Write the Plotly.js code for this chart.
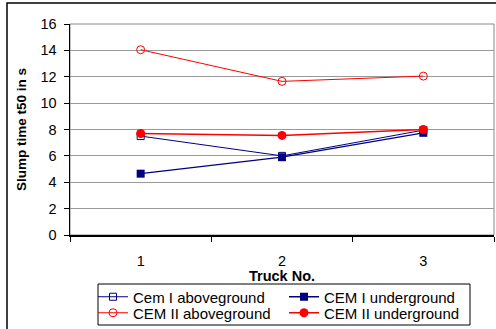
<!DOCTYPE html>
<html><head><meta charset="utf-8">
<script src="https://cdn.plot.ly/plotly-3.0.1.min.js"></script>
<style>html,body{margin:0;padding:0;background:#fff}#chart{width:496px;height:329px}</style>
</head><body><div id="chart"></div>
<script>
const trucks = ['1', '2', '3'];
const cemIAbove = [7.5, 6.0, 7.95];
const cemIUnder = [4.65, 5.9, 7.75];
const cemIIAbove = [14.05, 11.65, 12.05];
const cemIIUnder = [7.7, 7.55, 8.0];
const yTicks = [0, 2, 4, 6, 8, 10, 12, 14, 16];
const xTitle = 'Truck No.';
const yTitle = 'Slump time t50 in s';

const blue = '#000080', red = '#FF0000';
const traces = [
  {x: trucks, y: cemIAbove, name: 'Cem I aboveground', mode: 'lines+markers', legend: 'legend',
   line: {color: blue, width: 1}, marker: {symbol: 'square-open', size: 7, color: blue, line: {width: 1}}},
  {x: trucks, y: cemIUnder, name: 'CEM I underground', mode: 'lines+markers', legend: 'legend',
   line: {color: blue, width: 1.3}, marker: {symbol: 'square', size: 8, color: blue}},
  {x: trucks, y: cemIIAbove, name: 'CEM II aboveground', mode: 'lines+markers', legend: 'legend2',
   line: {color: red, width: 1}, marker: {symbol: 'circle-open', size: 8, color: red, line: {width: 1}}},
  {x: trucks, y: cemIIUnder, name: 'CEM II underground', mode: 'lines+markers', legend: 'legend2',
   line: {color: red, width: 1.5}, marker: {symbol: 'circle', size: 9, color: red}}
];
const font = {family: 'Liberation Sans, Arial, sans-serif', color: '#000'};
function legendRow(yPix) {
  return {
    orientation: 'h', xref: 'container', yref: 'container',
    x: 93 / 496, xanchor: 'left', y: 1 - yPix / 329, yanchor: 'middle',
    borderwidth: 0, bgcolor: 'rgba(0,0,0,0)',
    entrywidth: 146, entrywidthmode: 'pixels', itemwidth: 30,
    traceorder: 'normal',
    font: Object.assign({size: 15}, font)
  };
}
const layout = {
  width: 496, height: 329,
  margin: {l: 70, r: 2, t: 24, b: 94},
  paper_bgcolor: '#fff', plot_bgcolor: '#fff',
  font: Object.assign({size: 14}, font),
  showlegend: true,
  xaxis: {
    type: 'category', range: [-0.5, 2.5], tickson: 'boundaries', automargin: false,
    ticks: 'outside', ticklen: 5, tickcolor: '#000', tickwidth: 1,
    ticklabelstandoff: 12,
    showline: true, linecolor: '#000', linewidth: 1.5,
    showgrid: false, zeroline: false,
    tickfont: Object.assign({size: 14.5}, font)
  },
  yaxis: {
    range: [0, 16], tickvals: yTicks, ticktext: yTicks.map(String),
    ticks: 'outside', ticklen: 5, tickcolor: '#000', tickwidth: 1,
    ticklabelstandoff: 4,
    showline: true, linecolor: '#000', linewidth: 1.5,
    showgrid: true, gridcolor: '#999', gridwidth: 1, zeroline: false,
    tickfont: Object.assign({size: 14.5}, font),
    title: {text: '<b>' + yTitle + '</b>', font: Object.assign({size: 13.5}, font), standoff: 10}
  },
  annotations: [
    {text: '<b>' + xTitle + '</b>', xref: 'paper', yref: 'paper', x: 0.5, y: (235 - 276) / 211,
     xanchor: 'center', yanchor: 'middle', showarrow: false, font: Object.assign({size: 14.5}, font)}
  ],
  legend: legendRow(297),
  legend2: legendRow(313),
  shapes: [
    {type: 'rect', xref: 'paper', yref: 'paper', x0: 0, x1: 1, y0: 0, y1: 1,
     line: {color: '#888', width: 1}, layer: 'below'},
    {type: 'rect', xref: 'paper', yref: 'paper',
     x0: (7 - 70) / 424, x1: (510 - 70) / 424, y0: -(345 - 235) / 211, y1: (235 - 3) / 211,
     line: {color: '#000', width: 1.5}, layer: 'below'},
    {type: 'rect', xref: 'paper', yref: 'paper',
     x0: (98 - 70) / 424, x1: (470 - 70) / 424, y0: (235 - 325) / 211, y1: (235 - 284) / 211,
     line: {color: '#000', width: 1}, layer: 'below'}
  ]
};
Plotly.newPlot('chart', traces, layout, {displayModeBar: false, staticPlot: true});
</script></body></html>
